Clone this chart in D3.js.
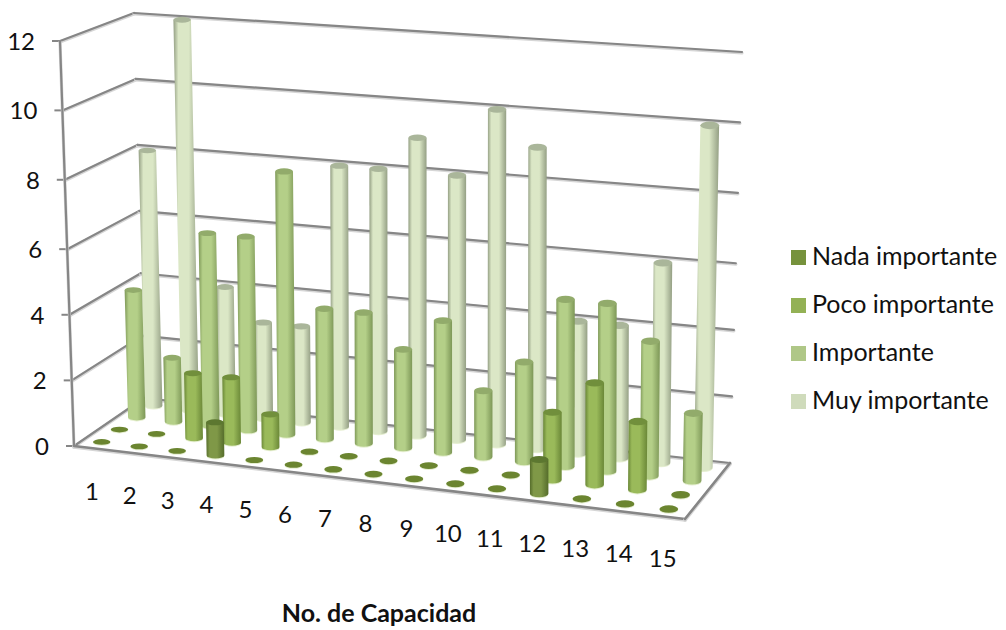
<!DOCTYPE html>
<html>
<head>
<meta charset="utf-8">
<script src="https://cdnjs.cloudflare.com/ajax/libs/d3/7.8.5/d3.min.js"></script>
<style>
    html, body { margin: 0; padding: 0; background: #fff; }
    text { font-family: Lato, sans-serif; fill: #111; }
</style>
</head>
<body>
<div id="chart"></div>
<script>
const categories = ["1", "2", "3", "4", "5", "6", "7", "8", "9", "10", "11", "12", "13", "14", "15"];
const seriesNames = ["Nada importante", "Poco importante", "Importante", "Muy importante"];
const nadaValues = [0, 0, 0, 1, 0, 0, 0, 0, 0, 0, 0, 1, 0, 0, 0];
const pocoValues = [0, 0, 2, 2, 1, 0, 0, 0, 0, 0, 0, 2, 3, 2, 0];
const importanteValues = [4, 2, 6, 6, 8, 4, 4, 3, 4, 2, 3, 5, 5, 4, 2];
const muyValues = [8, 12, 4, 3, 3, 8, 8, 9, 8, 10, 9, 4, 4, 6, 10];
const yTicks = [0, 2, 4, 6, 8, 10, 12];
const xTitle = "No. de Capacidad";

const width = 1006;
const height = 630;

// floor corners on screen, order: front-left, front-right, back-right, back-left
const floorCorners = [[74, 446], [685, 519], [730, 463], [144, 398]];

const uScale = d3.scaleBand().domain(categories).range([0, 1]);
const vScale = d3.scaleBand().domain(seriesNames).range([0, 1]);
const hScale = d3.scaleLinear().domain([0, 6, 12]).range([0, 0.486, 1]);

// sideways lean of the verticals, full height, along the width of the box
const leanScale = d3.scaleLinear().domain([0, 0.4, 0.85, 0.97, 1]).range([-10, 0, 1, 8, 12]);
const riseWide = d3.scaleLinear().domain([0, 1]).range([0, 26]);
const riseDeep = d3.scaleLinear().domain([0, 1]).range([405, 385]);

// projective map from the unit square to a quad
function quadMap(q) {
    const [[x0, y0], [x1, y1], [x2, y2], [x3, y3]] = q;
    const dx1 = x1 - x2, dx2 = x3 - x2, sx = x0 - x1 + x2 - x3;
    const dy1 = y1 - y2, dy2 = y3 - y2, sy = y0 - y1 + y2 - y3;
    const den = dx1 * dy2 - dx2 * dy1;
    const g = (sx * dy2 - dx2 * sy) / den;
    const h = (dx1 * sy - sx * dy1) / den;
    const a = x1 - x0 + g * x1, b = x3 - x0 + h * x3;
    const d = y1 - y0 + g * y1, e = y3 - y0 + h * y3;
    return (u, v) => {
        const w = g * u + h * v + 1;
        return [(a * u + b * v + x0) / w, (d * u + e * v + y0) / w];
    };
}

const floorMap = quadMap(floorCorners);

function project(u, v, value) {
    const f = floorMap(u, v);
    const k = hScale(value);
    const lean = leanScale(u) - 4 * (1 - v) * (1 - u);
    const rise = riseDeep(v) + riseWide(u);
    return [f[0] + lean * k, f[1] - rise * k];
}

const svg = d3.select("#chart")
    .append("svg")
    .attr("width", width)
    .attr("height", height);

const colors = {
    "Nada importante": { edge: "#556c2b", mid: "#7f9847", cap: "#5c7730", legend: "#76923c" },
    "Poco importante": { edge: "#6a8737", mid: "#9aba5a", cap: "#718f3c", legend: "#93b155" },
    "Importante": { edge: "#7d9757", mid: "#b4cf88", cap: "#92ab6b", legend: "#afc787" },
    "Muy importante": { edge: "#949f84", mid: "#dbe7c6", cap: "#aab69a", legend: "#cfdbbb" }
};

const defs = svg.append("defs");
seriesNames.forEach((name, i) => {
    const grad = defs.append("linearGradient").attr("id", "cyl" + i);
    const c = colors[name];
    [[0, c.edge], [0.2, c.mid], [0.6, c.mid], [1, c.edge]].forEach(s => {
        grad.append("stop").attr("offset", s[0]).attr("stop-color", s[1]);
    });
});

// floor
svg.append("polygon")
    .attr("points", floorCorners.map(p => p.join(",")).join(" "))
    .attr("fill", "#fff");

// walls
const gridColor = "#868686";
function gridLine(a, b, w) {
    const g = svg.append("g").attr("fill", "none").attr("stroke-linecap", "round");
    g.append("path")
        .attr("d", d3.line()([[a[0], a[1] + 1], [b[0], b[1] + 1]]))
        .attr("stroke", "#d6d6d6").attr("stroke-width", w + 1);
    g.append("path")
        .attr("d", d3.line()([a, b]))
        .attr("stroke", gridColor).attr("stroke-width", w);
}

yTicks.forEach(t => {
    gridLine(project(0, 0, t), project(0, 1, t), 2.2);
    gridLine(project(0, 1, t), project(1, 1, t), 2.2);
    const p = project(0, 0, t);
    svg.append("line")
        .attr("x1", p[0] - 8).attr("y1", p[1])
        .attr("x2", p[0]).attr("y2", p[1])
        .attr("stroke", gridColor).attr("stroke-width", 2);
    svg.append("text")
        .attr("x", p[0] - 25)
        .attr("y", p[1] + 9)
        .attr("text-anchor", "end")
        .attr("font-size", 24)
        .text(t);
});
gridLine(project(0, 0, 0), project(0, 0, 12), 2.2);
gridLine(project(0, 0, 0), project(1, 0, 0), 2.6);
gridLine(project(1, 0, 0), project(1, 1, 0), 2.6);

const radiusX = d3.scaleLinear().domain([0, 1]).range([8.7, 9.4]);
const radiusY = d3.scaleLinear().domain([0, 1]).range([2.8, 3.8]);

function cylinderPath(b, t, rx, ry) {
    return `M${b[0] - rx},${b[1]} L${t[0] - rx},${t[1]} L${t[0] + rx},${t[1]} L${b[0] + rx},${b[1]} A${rx},${ry} 0 0 1 ${b[0] - rx},${b[1]} Z`;
}

// back row first so the front rows cover it
const seriesValues = [nadaValues, pocoValues, importanteValues, muyValues];
[3, 2, 1, 0].forEach(s => {
    const name = seriesNames[s];
    const v = vScale(name) + vScale.bandwidth() / 2;
    const row = svg.append("g").attr("class", "series");
    categories.forEach((cat, i) => {
        const u = uScale(cat) + uScale.bandwidth() / 2;
        const value = seriesValues[s][i];
        const b = project(u, v, 0);
        const t = project(u, v, value);
        const rx = radiusX(u);
        const ry = radiusY(u);
        // light rim under the foot
        row.append("ellipse")
            .attr("cx", b[0]).attr("cy", b[1] + 1)
            .attr("rx", rx).attr("ry", ry)
            .attr("fill", "#e6efd2");
        if (value === 0) {
            row.append("ellipse")
                .attr("cx", b[0]).attr("cy", b[1])
                .attr("rx", rx).attr("ry", ry)
                .attr("fill", "#6b8530");
            return;
        }
        row.append("path")
            .attr("d", cylinderPath(b, t, rx, ry))
            .attr("fill", `url(#cyl${s})`);
        row.append("ellipse")
            .attr("cx", t[0]).attr("cy", t[1])
            .attr("rx", rx).attr("ry", ry)
            .attr("fill", colors[name].cap);
    });
});

// category labels follow the front edge
categories.forEach(cat => {
    const u = uScale(cat) + uScale.bandwidth() / 2;
    const p = project(u, vScale(seriesNames[0]) + vScale.bandwidth() / 2, 0);
    svg.append("text")
        .attr("x", p[0] - 10 + 4 * u)
        .attr("y", p[1] + 58)
        .attr("text-anchor", "middle")
        .attr("font-size", 24)
        .text(cat);
});

svg.append("text")
    .attr("x", 379)
    .attr("y", 622)
    .attr("text-anchor", "middle")
    .attr("font-size", 25)
    .attr("font-weight", "bold")
    .text(xTitle);

// legend
const legendY = d3.scalePoint().domain(seriesNames).range([250, 394]);
seriesNames.forEach(name => {
    svg.append("rect")
        .attr("x", 791).attr("y", legendY(name))
        .attr("width", 15).attr("height", 15)
        .attr("fill", colors[name].legend);
    svg.append("text")
        .attr("x", 812).attr("y", legendY(name) + 15)
        .attr("font-size", 25)
        .text(name);
});
</script>
</body>
</html>
